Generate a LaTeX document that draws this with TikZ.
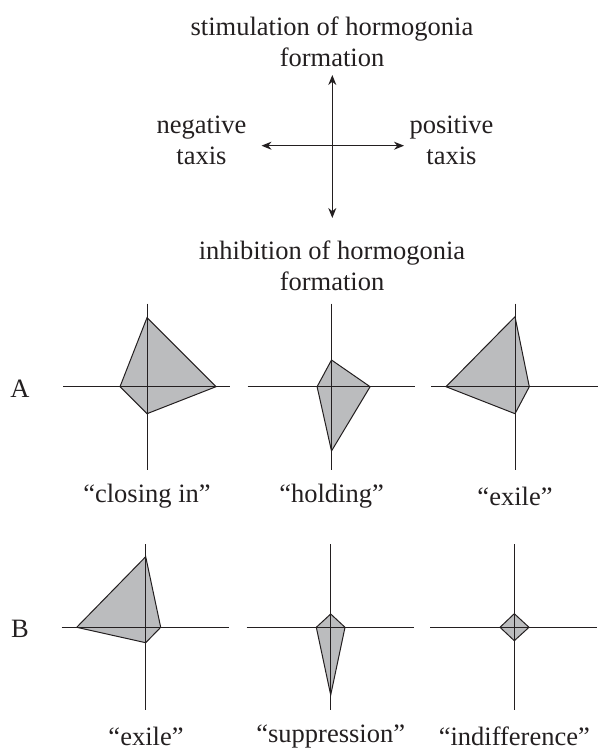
\documentclass[tikz,border=0pt]{standalone}
\usepackage{fontspec}
\setmainfont{Liberation Serif}
\usetikzlibrary{arrows.meta}
\definecolor{ink}{HTML}{231F20}
\definecolor{fillg}{HTML}{BBBCBE}
\newcommand\radarpanel[6]{%
  \filldraw[polyfill] (#1,#2-#3) -- (#1+#4,#2) -- (#1,#2+#5) -- (#1-#6,#2) -- cycle;
  \draw[axisline] (#1-84,#2) -- (#1+83,#2);
  \draw[axisline] (#1,#2-83) -- (#1,#2+83);
}
\begin{document}
\begin{tikzpicture}[x=1pt,y=-1pt,
  lbl/.style={font=\fontsize{26.5}{31}\selectfont, text=ink, align=center, inner sep=0pt},
  axisline/.style={draw=ink, line width=1pt},
  polyfill/.style={fill=fillg, draw=ink, line width=1pt, line join=miter},
  dirarrow/.style={draw=ink, line width=1pt, {Stealth[length=10pt,width=8pt]}-{Stealth[length=10pt,width=8pt]}}]
\useasboundingbox (0,0) rectangle (597,754);
% key diagram
\coordinate (up) at (332.3,75);
\coordinate (dn) at (332.3,218);
\coordinate (lt) at (261.5,145.7);
\coordinate (rt) at (404,145.7);
\draw[dirarrow] (up) -- (dn);
\draw[dirarrow] (lt) -- (rt);
\node[lbl] (stim) at (332,42) {stimulation of hormogonia\\formation};
\node[lbl] (inhib) at (332,266) {inhibition of hormogonia\\formation};
\node[lbl] (neg) at (201.5,140) {negative\\taxis};
\node[lbl] (pos) at (451.5,140) {positive\\taxis};
% row labels
\node[lbl] (rowA) at (20,389) {A};
\node[lbl] (rowB) at (20,629) {B};
% row A
\radarpanel{147}{386.7}{69}{69}{27}{27}
\radarpanel{331.5}{386.7}{26.7}{38.6}{64.3}{14.4}
\radarpanel{515}{386.7}{70}{14.3}{27}{69}
% row B
\radarpanel{145.7}{627.3}{70.6}{15}{15.4}{69}
\radarpanel{330.7}{627.3}{13.3}{14.3}{67.7}{14.4}
\radarpanel{514.3}{627.3}{13.6}{14.7}{13.4}{14.3}
% captions
\node[lbl] (capA1) at (147,496) {“closing in”};
\node[lbl] (capA2) at (331.5,496) {“holding”};
\node[lbl] (capA3) at (515,496) {“exile”};
\node[lbl] (capB1) at (146,736) {“exile”};
\node[lbl] (capB2) at (330.7,736) {“suppression”};
\node[lbl] (capB3) at (514.3,736) {“indifference”};
\end{tikzpicture}
\end{document}
